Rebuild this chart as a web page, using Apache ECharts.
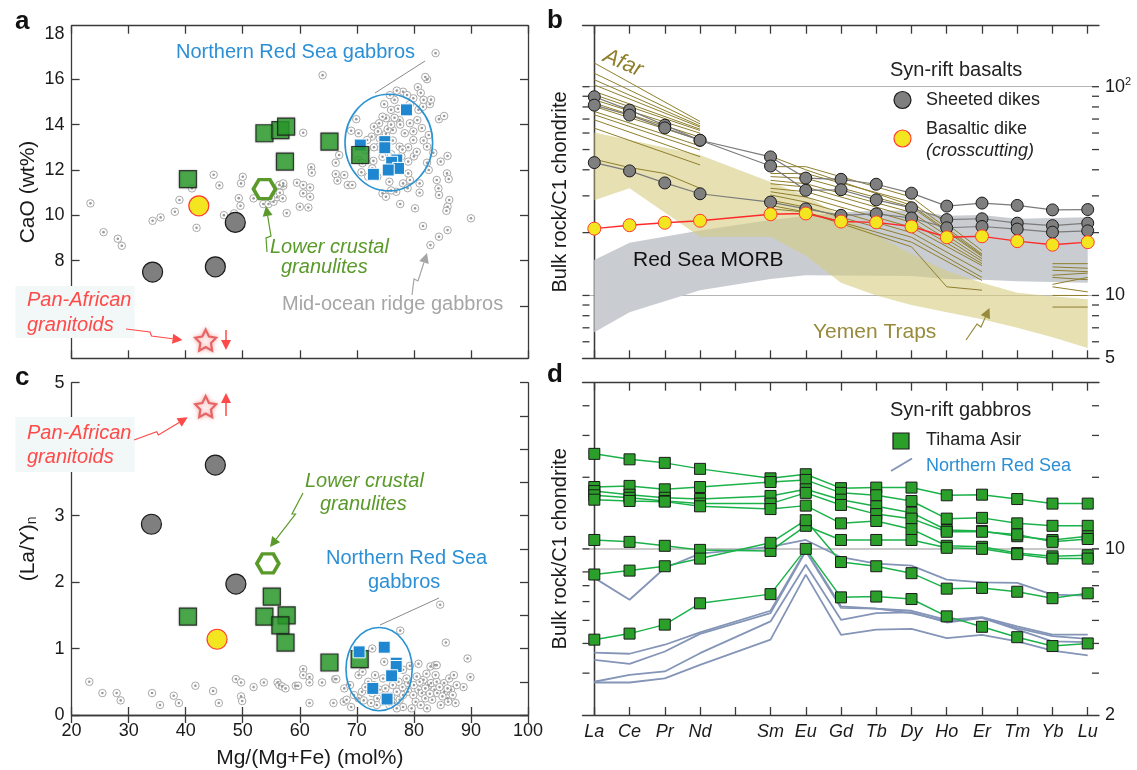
<!DOCTYPE html>
<html>
<head>
<meta charset="utf-8">
<script src="https://cdn.jsdelivr.net/npm/echarts@6/dist/echarts.min.js"></script>
<style>
  html, body { margin: 0; padding: 0; background: #fff; }
  #chart { width: 1137px; height: 770px; }
</style>
</head>
<body>
<div id="chart"></div>
<script>
// ---------- data ----------
const REE = ['La', 'Ce', 'Pr', 'Nd', 'Pm', 'Sm', 'Eu', 'Gd', 'Tb', 'Dy', 'Ho', 'Er', 'Tm', 'Yb', 'Lu'];
const REE_TICKS = [0, 1, 2, 3, 4, 5, 6, 7, 8, 9, 10, 11, 12, 13, 14];
const REE_LABELS = [0, 1, 2, 3, 5, 6, 7, 8, 9, 10, 11, 12, 13, 14];

// panel a : Mg# vs CaO
const morGabbroA = [
  [23.3,10.53],[25.6,9.26],[28.1,8.97],[28.8,8.66],[34.2,9.76],[35.6,9.91],[38.1,10.16],[38.9,10.68],
  [41.1,11.19],[41.9,9.45],[44.9,11.79],[45.9,11.32],[46.7,10.01],[48.5,10.09],[49.3,10.76],[49.6,10.42],
  [49.7,11.41],[50.0,11.70],[51.9,10.75],[53.6,10.5],[54.5,10.5],[55.4,10.6],[56.0,10.8],[56.5,11.0],
  [57.1,11.3],[57.0,10.75],[57.7,10.1],[55.0,10.75],[56.4,11.34],[57.1,11.41],[59.5,11.44],[60.6,13.64],
  [60.6,11.34],[60.6,10.97],[60.0,10.38],[61.5,10.35],[61.8,11.23],[61.8,10.82],[62.0,12.12],[62.1,11.88],
  [64.0,16.18],[66.3,12.32],[66.3,11.82],[66.6,11.53],[66.9,12.66],[67.8,11.78],[68.4,11.34],[69.2,11.34],
  [69.0,13.73],[69.9,14.24],[70.3,13.62],[80.7,15.65],[82.3,16.0],[82.0,16.1],[83.8,17.15],[84.4,14.24],
  [85.3,14.38],[82.6,13.54],[82.3,13.03],[83.4,12.76],[82.3,12.32],[84.7,12.37],[85.9,12.62],[85.8,11.85],
  [86.1,11.6],[84.0,11.56],[84.3,11.19],[84.4,10.9],[86.2,10.68],[85.9,10.38],[85.7,10.2],[81.0,11.41],
  [81.0,11.0],[80.2,10.31],[77.6,10.5],[81.6,9.53],[85.9,9.35],[84.4,9.06],[82.9,8.69],[90.0,9.87],
  [74.5,10.97],[75.1,10.82],[76.9,11.04],[78.1,11.41],[79.0,12.37],[80.0,12.6],[79.9,13.32],[80.8,14.65],
  [81.6,14.79],[81.7,15.09],[79.9,15.16],[78.1,15.45],[76.6,15.09],[76.0,14.65],[75.1,14.28],[73.9,14.06],
  [73.0,13.91],[72.6,13.47],[71.8,13.32],[73.9,13.03],[74.5,12.58],[72.9,12.4],[77.5,13.03],[78.4,13.62],
  [79.3,14.06],[77.5,14.2],[76.3,13.76],[75.1,13.6],[71.5,12.88],[70.3,12.44],[72.7,12.07],[73.6,11.7],
  [75.7,11.48],[79.3,11.56],[79.0,11.85],[77.8,12.6],[75.4,13.8],[76.6,14.3],[78.4,14.65],[79.3,14.9],
  [77.2,14.7],[74.5,14.35],[73.7,13.7],[73.0,13.0],[76.3,13.3],[79.9,13.7],[81.4,13.85],[79.0,13.0],
  [80.5,12.8],[81.7,13.3],[74.8,14.9],[75.8,15.3],[77.0,15.5],[78.8,15.3],[77.6,14.0],[76.0,14.0],
  [74.0,13.4],[75.0,12.9],[76.0,12.7],[78.0,12.9],[80.6,14.2],[82.8,14.9],[78.9,11.2],[76.0,11.1],
  [72.0,11.7],[70.8,11.9],[71.0,12.3],[81.2,15.4],[83.0,15.1],[82.6,12.0]
];
const sheetedDikesA = [[34.2,7.5],[45.2,7.73],[48.7,9.69]];
const basalticDikeA = [[42.3,10.42]];
const tihamaAsirA = [[40.4,11.6],[53.8,13.62],[56.6,13.76],[57.6,13.91],[57.4,12.37],[65.2,13.25],[70.6,12.66]];
const northRedSeaA = [[78.7,14.65],[70.6,13.1],[74.9,13.25],[74.9,12.98],[77.0,12.44],[76.1,12.34],[77.3,12.07],[75.5,12.0],[72.9,11.81]];
const granuliteA = [[53.8,11.16]];
const panAfricanA = [[43.5,4.5]];
const nrsFieldA = [75.6, 13.21, 7.68, 2.13];   // centre x, centre y, half width, half height

// panel c : Mg# vs (La/Y)n
const morGabbroC = [
  [23.1,0.50],[25.4,0.33],[27.9,0.33],[28.6,0.22],[34.1,0.33],[35.5,0.15],[37.9,0.29],[38.8,0.18],
  [41.7,0.44],[44.8,0.36],[45.8,0.18],[48.8,0.54],[49.7,0.49],[49.7,0.28],[49.9,0.21],[51.9,0.42],
  [53.7,0.49],[56.1,0.49],[56.4,0.45],[56.9,0.43],[57.5,0.40],[59.3,0.44],[59.7,0.44],[60.6,0.69],
  [60.6,0.60],[61.7,0.57],[61.7,0.49],[61.7,0.18],[63.9,0.49],[65.9,0.18],[66.2,0.54],[66.4,0.54],
  [67.8,0.40],[67.7,0.20],[68.2,0.23],[70.3,0.60],[72.7,1.00],[74.8,0.80],[77.6,1.27],[80.8,0.77],
  [82.9,0.73],[83.7,0.75],[84.0,0.75],[84.6,1.66],[85.6,1.09],[89.4,0.85],[89.9,0.57],[88.7,0.42],
  [87.3,0.18],[79.6,0.10],[78.1,0.12],[76.6,0.68],[78.1,0.68],[79.3,0.74],[81.7,0.53],[82.6,0.45],
  [85.3,0.48],[86.5,0.38],[85.9,0.25],[84.7,0.15],[82.3,0.10],[70.9,0.35],[70.3,0.25],[71.2,0.22],
  [72.7,0.33],[73.6,0.25],[74.5,0.20],[75.7,0.15],[76.6,0.18],[77.5,0.23],[78.1,0.30],[79.0,0.35],
  [79.9,0.30],[80.8,0.38],[81.4,0.33],[82.0,0.25],[83.2,0.23],[83.6,0.38],[84.1,0.33],[85.3,0.35],
  [85.9,0.40],[72.0,0.50],[73.0,0.45],[74.0,0.38],[75.0,0.30],[76.0,0.28],[77.0,0.35],[78.0,0.42],
  [79.0,0.48],[80.0,0.45],[81.0,0.50],[82.0,0.40],[83.0,0.48],[84.0,0.50],[85.0,0.28],[86.0,0.20],
  [77.0,0.10],[76.0,0.22],[75.0,0.40],[73.5,0.15],[72.5,0.18],[71.5,0.42],[69.5,0.30],[68.8,0.45],
  [69.0,0.12],[80.3,0.20],[81.2,0.15],[82.8,0.32],[84.5,0.42],[86.8,0.30],[87.5,0.45],[83.8,0.60],
  [82.2,0.62],[80.5,0.58],[78.7,0.55],[77.3,0.50],[76.3,0.45],[74.6,0.55],[73.2,0.60],[71.0,0.65],
  [86.2,0.55],[87.0,0.60]
];
const sheetedDikesC = [[34.0,2.87],[45.2,3.76],[48.8,1.97]];
const basalticDikeC = [[45.5,1.14]];
const tihamaAsirC = [[40.4,1.48],[55.1,1.78],[53.8,1.48],[57.7,1.50],[56.6,1.35],[57.5,1.09],[65.2,0.79],[70.5,0.84]];
const northRedSeaC = [[70.4,0.95],[74.8,1.02],[76.9,0.78],[76.9,0.73],[76.1,0.59],[72.8,0.40],[75.3,0.24]];
const granuliteC = [[54.4,2.28]];
const panAfricanC = [[43.5,4.64]];
const nrsFieldC = [73.9, 0.69, 5.8, 0.627];

// panel b : syn-rift basalts, REE / C1 chondrite (La..Lu, Pm empty)
const sheetedDikesB = [
  [89.5,77.2,65.4,55.4,null,46.1,36.5,36.0,34.1,30.9,26.8,27.7,27.0,25.7,25.8],
  [81.6,73.1,63.5,55.4,null,41.7,31.9,32.1,28.7,26.3,23.1,23.3,22.2,21.6,22.2],
  [43.3,39.5,34.6,30.7,null,28.0,26.0,24.2,24.6,23.5,21.1,21.4,20.8,20.1,20.4]
];
const basalticDikeB = [20.9,21.7,22.3,22.8,null,24.5,24.7,22.6,22.4,21.4,19.0,19.2,18.2,17.5,18.0];
// Afar basalts: La-Nd, Sm-Er and Yb-Lu segments
const afarLREE = [
  [130,null,null,68.1],[116,null,null,66.4],[108,null,null,64.9],[102,null,null,64.0],
  [95,null,null,62.6],[91.5,null,null,61.7],[86.6,null,null,59.9],[83.5,null,null,57.3],
  [80.4,null,null,55.6],[76.1,null,null,52.0],[73.4,null,null,49.8],[69.4,null,null,46.2],
  [63.3,null,null,42.2],[44.9,41.0,38.4,32.6]
];
const afarMREE = [
  [46.5,40.0,null,null,27.0,null,15.6],[41.4,41.4,null,null,29.6,null,16.4],[38.4,38.4,null,null,28.0,null,15.8],
  [37.1,36.4,null,null,26.5,null,15.4],[35.6,34.3,null,null,25.0,null,15.0],[34.3,33.1,null,null,23.7,null,14.6],
  [32.6,31.4,null,null,22.4,null,14.2],[31.4,29.6,null,null,21.2,null,13.9],[30.3,28.0,null,null,20.0,null,13.0],
  [28.6,26.5,null,null,19.0,null,12.2],[27.0,25.1,null,null,18.0,null,11.8],[26.0,25.1,null,null,17.1,11.0,10.6]
];
const afarHREE = [[14.2,14.2],[13.7,13.5],[13.2,13.0],[12.5,12.8],[12.2,11.9],[11.3,12.2],[11.0,10.4],[10.0,10.0],[8.8,8.8]];
const yemenUpper = [60.3,null,null,47.1,null,35.0,30.0,24.0,19.5,15.8,13.1,11.5,10.3,9.9,9.6];
const yemenLower = [28.6,32.6,null,19.1,null,19.1,15.5,11.5,10.0,9.0,8.3,7.7,7.0,6.3,5.6];
const morbUpper = [14.8,17.9,null,20.5,null,23.0,24.0,25.0,25.5,25.5,24.1,24.3,23.3,23.5,23.7];
const morbLower = [6.67,8.3,null,10.6,null,12.0,12.5,null,null,12.4,12.0,11.9,11.7,null,11.5];
const logTicksB = [6,7,8,9,10,20,30,40,50,60,70,80,90,100];

// panel d : syn-rift gabbros
const tihamaAsirD = [
  [25.1,23.8,23.0,21.7,null,19.8,20.6,18.0,18.1,18.1,16.8,16.9,16.2,15.5,15.5],
  [18.2,18.4,17.8,18.2,null,19.1,19.5,17.2,16.8,15.9,13.4,13.5,12.8,12.5,12.5],
  [17.5,16.9,16.4,16.2,null,16.7,17.8,16.1,15.1,14.2,12.0,11.9,11.3,10.9,11.3],
  [16.8,16.4,15.9,15.5,null,15.5,17.2,15.3,14.0,13.4,11.8,11.8,11.5,10.7,11.0],
  [16.1,15.9,15.8,15.1,null,14.7,15.2,12.8,13.1,12.1,10.3,10.2,9.6,9.3,9.4],
  [10.9,10.7,10.3,9.9,null,9.8,12.5,10.9,10.9,10.9,10.1,10.0,9.5,9.1,9.1],
  [7.8,8.1,8.45,9.1,null,10.6,13.2,8.8,8.45,7.9,6.8,6.85,6.6,6.2,6.5],
  [4.15,4.4,4.8,5.9,null,6.45,10.0,6.25,6.3,6.15,5.2,4.7,4.25,3.9,4.0]
];
const northRedSeaD = [
  [7.55,6.11,8.31,9.55,null,10.2,10.9,9.22,8.67,8.5,7.42,7.23,7.19,6.42,6.36],
  [3.66,3.62,3.95,4.45,null,5.49,9.87,5.73,5.6,5.49,5.03,5.16,4.72,4.36,4.36],
  [3.41,3.28,3.7,4.39,null,5.37,9.77,5.64,5.6,5.37,4.95,5.12,4.64,4.29,4.18],
  [2.76,2.95,3.05,3.64,null,4.95,8.58,5.03,5.37,5.4,4.9,5.12,4.57,4.08,4.05],
  [2.74,2.74,2.85,3.25,null,4.15,7.79,4.35,4.57,4.61,4.21,4.35,4.08,3.73,3.56]
];
const logTicksD = [3,4,5,6,7,8,10,20,30,40];

// ---------- styles ----------
const FONT = "'Liberation Sans', Arial, Helvetica, sans-serif";
const INK = '#1a1a1a';
const FRAME = '#3a3a3a';
const OLIVE = '#8f7f2c';
const BLUE = '#2b8fd6';
const GREEN = '#2a9f2a';
const REE_MIN = -0.335, REE_MAX = 14.32;

const axLine = { show: true, lineStyle: { color: FRAME, width: 1.3 } };
const tickIn = { show: true, inside: true, length: 8, lineStyle: { color: FRAME, width: 1.3 } };
const noSplit = { show: false };

function mgAxis(grid, pos, labels) {
  return {
    gridIndex: grid, type: 'value', position: pos, min: 20, max: 100, interval: 10,
    axisLine: axLine, axisTick: tickIn, splitLine: noSplit,
    axisLabel: labels ? { fontSize: 18, color: INK, fontFamily: FONT, margin: 7 } : { show: false }
  };
}
function reeAxis(grid, pos, labels) {
  return {
    gridIndex: grid, type: 'value', position: pos, min: REE_MIN, max: REE_MAX,
    axisLine: axLine, axisTick: Object.assign({}, tickIn, { customValues: REE_TICKS }), splitLine: noSplit,
    axisLabel: labels ? {
      customValues: REE_LABELS, formatter: v => REE[Math.round(v)],
      fontSize: 18, fontStyle: 'italic', color: INK, fontFamily: FONT, margin: 8
    } : { show: false }
  };
}
function logAxis(grid, pos, min, max, opts) {
  return Object.assign({
    gridIndex: grid, type: 'log', logBase: 10, position: pos, min: min, max: max,
    axisLine: axLine, axisTick: { show: false }, axisLabel: { show: false }, splitLine: noSplit
  }, opts);
}

function pairs(row, offset) {
  const out = [];
  row.forEach((v, i) => { if (v != null) out.push([i + offset, v]); });
  return out;
}
function lineSeries(row, offset, xi, yi, color, width, z, sym) {
  const s = {
    type: 'line', xAxisIndex: xi, yAxisIndex: yi, data: pairs(row, offset), z: z, silent: true,
    lineStyle: { color: color, width: width }, symbol: 'none', connectNulls: true
  };
  if (sym) {
    s.symbol = sym.symbol; s.symbolSize = sym.size; s.showSymbol = true;
    s.itemStyle = { color: sym.fill, borderColor: sym.border, borderWidth: 1 };
  }
  return s;
}
function scatter(data, xi, yi, symbol, size, fill, border, bw, z, extra) {
  return Object.assign({
    type: 'scatter', xAxisIndex: xi, yAxisIndex: yi, data: data, symbol: symbol, symbolSize: size, z: z, silent: true,
    itemStyle: { color: fill, borderColor: border, borderWidth: bw, opacity: 1 }
  }, extra || {});
}
function morSeries(data, xi, yi) {
  return [
    scatter(data, xi, yi, 'circle', 7.5, '#ffffff', '#a9a9a9', 1, 2),
    scatter(data, xi, yi, 'circle', 2.6, '#9a9a9a', '#9a9a9a', 0, 3)
  ];
}
function fieldSeries(f, xi, yi) {
  return {
    type: 'custom', xAxisIndex: xi, yAxisIndex: yi, z: 4, silent: true, data: [f],
    renderItem: (p, api) => {
      const c = api.coord([api.value(0), api.value(1)]);
      const s = api.size([api.value(2), api.value(3)]);
      return { type: 'ellipse', shape: { cx: c[0], cy: c[1], rx: s[0], ry: s[1] },
               style: { fill: 'none', stroke: '#2a93d2', lineWidth: 1.6 } };
    }
  };
}
function bandSeries(upper, lower, fill, z) {
  return {
    type: 'custom', xAxisIndex: 2, yAxisIndex: 3, z: z, silent: true, data: [[0, upper[0]]],
    renderItem: (p, api) => {
      const pts = [];
      upper.forEach((v, i) => { if (v != null) pts.push(api.coord([i, v])); });
      for (let i = lower.length - 1; i >= 0; i--) if (lower[i] != null) pts.push(api.coord([i, lower[i]]));
      return { type: 'polygon', shape: { points: pts }, style: { fill: fill } };
    }
  };
}
function tickSeries(vals, xi, yi) {
  return {
    type: 'custom', xAxisIndex: xi, yAxisIndex: yi, z: 20, silent: true,
    data: vals.map(v => [0, v]),
    renderItem: (p, api) => {
      const v = api.value(1);
      const l = api.coord([REE_MIN, v]), r = api.coord([REE_MAX, v]);
      const st = { stroke: FRAME, lineWidth: 1.3 };
      return { type: 'group', children: [
        { type: 'line', shape: { x1: l[0], y1: l[1], x2: l[0] + 7, y2: l[1] }, style: st },
        { type: 'line', shape: { x1: r[0] - 7, y1: r[1], x2: r[0], y2: r[1] }, style: st }
      ] };
    }
  };
}

const STAR = 'path://M0,-10L2.94,-4.05L9.51,-3.09L4.76,1.55L5.88,8.09L0,5L-5.88,8.09L-4.76,1.55L-9.51,-3.09L-2.94,-4.05Z';
const HEX = 'path://M-10,0L-5,-8.66L5,-8.66L10,0L5,8.66L-5,8.66Z';

function pointPanel(xi, yi, d, greenOnTop) {
  const blue = scatter(d.nrs, xi, yi, 'rect', 12, '#1f87cf', '#ffffff', 1, greenOnTop ? 6 : 8);
  const green = scatter(d.tihama, xi, yi, 'rect', 17, GREEN, '#1a1a1a', 1.2, 7,
    { itemStyle: { color: GREEN, borderColor: '#1a1a1a', borderWidth: 1.2, shadowBlur: 2, shadowColor: 'rgba(0,0,0,0.3)' } });
  return [].concat(morSeries(d.mor, xi, yi), [
    fieldSeries(d.field, xi, yi),
    blue, green,
    scatter(d.dikes, xi, yi, 'circle', 20, '#7f7f7f', '#1a1a1a', 1.2, 9),
    scatter(d.basalt, xi, yi, 'circle', 20, '#f3e621', '#ff3b30', 1.2, 9),
    scatter(d.gran, xi, yi, HEX, [22, 19], '#ffffff', '#5a9a2a', 3.5, 9),
    scatter(d.pan, xi, yi, STAR, 21, '#ffffff', '#e04a4a', 2.2, 9,
      { itemStyle: { color: '#fff', borderColor: '#e04a4a', borderWidth: 2.2, shadowBlur: 4, shadowColor: '#f59a9a' } })
  ]);
}

const series = [].concat(
  pointPanel(0, 0, { mor: morGabbroA, field: nrsFieldA, nrs: northRedSeaA, tihama: tihamaAsirA, dikes: sheetedDikesA,
                     basalt: basalticDikeA, gran: granuliteA, pan: panAfricanA }, true),
  pointPanel(4, 4, { mor: morGabbroC, field: nrsFieldC, nrs: northRedSeaC, tihama: tihamaAsirC, dikes: sheetedDikesC,
                     basalt: basalticDikeC, gran: granuliteC, pan: panAfricanC }, false),
  [bandSeries(morbUpper, morbLower, '#c9cdd2', 1),
   bandSeries(yemenUpper, yemenLower, 'rgba(214,204,128,0.6)', 2)],
  afarLREE.map(r => lineSeries(r, 0, 2, 3, OLIVE, 1, 3)),
  afarMREE.map(r => lineSeries(r, 5, 2, 3, OLIVE, 1, 3)),
  afarHREE.map(r => lineSeries(r, 13, 2, 3, OLIVE, 1, 3)),
  sheetedDikesB.map(r => lineSeries(r, 0, 2, 3, '#7a7a7a', 1.2, 5,
    { symbol: 'circle', size: 12, fill: '#7f7f7f', border: '#1a1a1a' })),
  [lineSeries(basalticDikeB, 0, 2, 3, '#ff2a2a', 1.4, 6,
    { symbol: 'circle', size: 13, fill: '#f3e621', border: '#ff3b30' })],
  [tickSeries(logTicksB, 2, 3)],
  northRedSeaD.map(r => lineSeries(r, 0, 6, 7, '#8495b8', 1.8, 3)),
  tihamaAsirD.map(r => lineSeries(r, 0, 6, 7, '#1cb24a', 1.5, 5,
    { symbol: 'rect', size: 11, fill: GREEN, border: '#1a1a1a' })),
  [tickSeries(logTicksD, 6, 7)]
);

// ---------- annotations ----------
function txt(x, y, s, color, size, opts) {
  return { type: 'text', x: x, y: y, z: 50, silent: true, rotation: (opts && opts.rot) || 0,
    style: { text: s, fill: color, font: ((opts && opts.italic) ? 'italic ' : '') + ((opts && opts.bold) ? 'bold ' : '') + size + 'px ' + FONT,
             textAlign: (opts && opts.align) || 'left', textVerticalAlign: 'middle' } };
}
function arrow(pts, color, width) {
  const n = pts.length, tip = pts[n - 1], prev = pts[n - 2];
  const dx = tip[0] - prev[0], dy = tip[1] - prev[1], len = Math.hypot(dx, dy);
  const ux = dx / len, uy = dy / len, hl = 10, hw = 5;
  const bx = tip[0] - ux * hl, by = tip[1] - uy * hl;
  const body = pts.slice(0, n - 1).concat([[bx, by]]);
  return [
    { type: 'polyline', z: 50, silent: true, shape: { points: body }, style: { stroke: color, lineWidth: width, fill: null } },
    { type: 'polygon', z: 50, silent: true, shape: { points: [tip, [bx - uy * hw, by + ux * hw], [bx + uy * hw, by - ux * hw]] }, style: { fill: color } }
  ];
}
function seg(x1, y1, x2, y2, color, w) {
  return { type: 'line', z: 50, silent: true, shape: { x1: x1, y1: y1, x2: x2, y2: y2 }, style: { stroke: color, lineWidth: w } };
}
const RED = '#ff4a4a', LGREEN = '#5a9a2a', GREYTXT = '#a6a6a6';

const graphics = [].concat(
  [txt(15, 22, 'a', '#111', 26, { bold: true }), txt(547, 21, 'b', '#111', 26, { bold: true }),
   txt(15, 378, 'c', '#111', 26, { bold: true }), txt(547, 375, 'd', '#111', 26, { bold: true })],
  // panel a
  [txt(176, 52, 'Northern Red Sea gabbros', BLUE, 20), seg(425, 61, 375, 93, '#8a8a8a', 1),
   txt(270, 247, 'Lower crustal', LGREEN, 20, { italic: true }), txt(281, 267, 'granulites', LGREEN, 20, { italic: true })],
  arrow([[267, 252], [266, 238], [271, 236], [266, 206]], LGREEN, 1.2),
  [txt(282, 304, 'Mid-ocean ridge gabbros', GREYTXT, 20)],
  arrow([[412, 295], [414, 279], [418, 281], [427, 253]], GREYTXT, 1.2),
  [{ type: 'rect', z: 45, silent: true, shape: { x: 15.5, y: 286, width: 119, height: 52 }, style: { fill: '#f2f7f7' } },
   txt(27, 300, 'Pan-African', RED, 20, { italic: true }), txt(27, 325, 'granitoids', RED, 20, { italic: true })],
  arrow([[126, 329], [150, 332], [151.5, 336], [182.5, 340]], RED, 1.2),
  arrow([[226, 330], [226, 350]], RED, 1.5),
  // panel c
  [{ type: 'rect', z: 45, silent: true, shape: { x: 15.5, y: 417, width: 119, height: 55 }, style: { fill: '#f2f7f7' } },
   txt(27, 433, 'Pan-African', RED, 20, { italic: true }), txt(27, 457, 'granitoids', RED, 20, { italic: true })],
  arrow([[134, 440], [156.7, 431.7], [158.4, 435], [187.7, 417.3]], RED, 1.2),
  arrow([[226, 416], [226, 393]], RED, 1.5),
  [txt(305, 481, 'Lower crustal', LGREEN, 20, { italic: true }), txt(320, 504, 'granulites', LGREEN, 20, { italic: true })],
  arrow([[303, 493], [292, 514], [295.5, 514], [270, 547]], LGREEN, 1.2),
  [txt(326, 558, 'Northern Red Sea', BLUE, 20), txt(368, 582, 'gabbros', BLUE, 20), seg(439, 598, 380, 625, '#8a8a8a', 1)],
  // panel b
  [txt(623, 63, 'Afar', OLIVE, 22, { italic: true, align: 'center', rot: -0.4 }),
   txt(890, 70, 'Syn-rift basalts', '#222', 20),
   { type: 'circle', z: 50, silent: true, shape: { cx: 902.5, cy: 100, r: 8.5 }, style: { fill: '#7f7f7f', stroke: '#1a1a1a', lineWidth: 1.2 } },
   txt(926, 100, 'Sheeted dikes', '#222', 18),
   { type: 'circle', z: 50, silent: true, shape: { cx: 902.5, cy: 138.5, r: 8.5 }, style: { fill: '#f3e621', stroke: '#ff3b30', lineWidth: 1.2 } },
   txt(926, 129, 'Basaltic dike', '#222', 18), txt(926, 151, '(crosscutting)', '#222', 18, { italic: true }),
   txt(633, 260, 'Red Sea MORB', '#111', 21),
   txt(813, 332, 'Yemen Traps', '#978a3b', 21)],
  arrow([[966, 340], [977, 324], [981, 327], [989.5, 308]], '#978a3b', 1.2),
  // panel d
  [txt(890, 410, 'Syn-rift gabbros', '#222', 20),
   { type: 'rect', z: 50, silent: true, shape: { x: 893, y: 433, width: 16, height: 16 }, style: { fill: GREEN, stroke: '#1a1a1a', lineWidth: 1.2 } },
   txt(926, 440, 'Tihama Asir', '#222', 18),
   seg(891, 471, 912, 458.5, '#8495b8', 2),
   txt(926, 466, 'Northern Red Sea', BLUE, 18)]
);

// ---------- chart ----------
const chart = echarts.init(document.getElementById('chart'), null, { renderer: 'canvas' });
chart.setOption({
  animation: false,
  backgroundColor: '#ffffff',
  grid: [
    { left: 71.6, top: 25.7, width: 456.4, height: 332.6 },
    { left: 582.5, top: 25.7, width: 516.5, height: 332.6 },
    { left: 71.6, top: 382.7, width: 456.4, height: 332.3 },
    { left: 582.5, top: 382.7, width: 516.5, height: 332.3 }
  ],
  xAxis: [
    mgAxis(0, 'bottom', false), mgAxis(0, 'top', false),
    reeAxis(1, 'bottom', false), reeAxis(1, 'top', false),
    Object.assign(mgAxis(2, 'bottom', true), {
      name: 'Mg/(Mg+Fe) (mol%)', nameLocation: 'middle', nameGap: 33,
      nameTextStyle: { fontSize: 21, color: INK, fontFamily: FONT, padding: [0, 0, 0, 20] }
    }),
    mgAxis(2, 'top', false),
    reeAxis(3, 'bottom', true), reeAxis(3, 'top', false)
  ],
  yAxis: [
    { gridIndex: 0, type: 'value', min: 3.7, max: 18.36, axisLine: axLine, splitLine: noSplit,
      axisTick: Object.assign({}, tickIn, { customValues: [6, 8, 10, 12, 14, 16] }),
      axisLabel: { customValues: [8, 10, 12, 14, 16, 18], fontSize: 18, color: INK, fontFamily: FONT, margin: 7 },
      name: 'CaO (wt%)', nameLocation: 'middle', nameGap: 33,
      nameTextStyle: { fontSize: 21, color: INK, fontFamily: FONT } },
    { gridIndex: 0, type: 'value', position: 'right', min: 3.7, max: 18.36, axisLine: axLine, splitLine: noSplit,
      axisTick: Object.assign({}, tickIn, { customValues: [6, 8, 10, 12, 14, 16] }), axisLabel: { show: false } },
    logAxis(1, 'left', 5, 196, { name: 'Bulk rock/C1 chondrite', nameLocation: 'middle', nameGap: 12,
      nameTextStyle: { fontSize: 20, color: INK, fontFamily: FONT } }),
    logAxis(1, 'right', 5, 196, {
      axisLabel: { show: true, margin: 6, fontSize: 18, color: INK, fontFamily: FONT,
        formatter: v => { const r = Math.round(v); return r === 100 ? '10{sup|2}' : (r === 10 ? '10' : (r === 5 ? '5' : '')); },
        rich: { sup: { fontSize: 11, verticalAlign: 'top', padding: [0, 0, 9, 0], color: INK, fontFamily: FONT } } },
      splitLine: { show: true, showMinLine: false, showMaxLine: false, lineStyle: { color: '#b5b5b5', width: 1.2 } } }),
    { gridIndex: 2, type: 'value', min: 0, max: 5, interval: 1, axisLine: axLine, axisTick: tickIn, splitLine: noSplit,
      axisLabel: { fontSize: 18, color: INK, fontFamily: FONT, margin: 7 },
      name: '(La/Y){sub|n}', nameLocation: 'middle', nameGap: 32,
      nameTextStyle: { fontSize: 21, color: INK, fontFamily: FONT,
        rich: { sub: { fontSize: 14, color: INK, fontFamily: FONT, verticalAlign: 'bottom', padding: [8, 0, 0, 0] } } } },
    { gridIndex: 2, type: 'value', position: 'right', min: 0, max: 5, interval: 0.5, axisLine: axLine, axisTick: tickIn,
      splitLine: noSplit, axisLabel: { show: false } },
    logAxis(3, 'left', 2, 50, { name: 'Bulk rock/C1 chondrite', nameLocation: 'middle', nameGap: 12,
      nameTextStyle: { fontSize: 20, color: INK, fontFamily: FONT } }),
    logAxis(3, 'right', 2, 50, {
      axisLabel: { show: true, margin: 6, fontSize: 18, color: INK, fontFamily: FONT,
        formatter: v => { const r = Math.round(v); return r === 10 ? '10' : (r === 2 ? '2' : ''); } },
      splitLine: { show: true, showMinLine: false, showMaxLine: false, lineStyle: { color: '#c8c8c8', width: 2 } } })
  ],
  series: series,
  graphic: graphics
});
</script>
</body>
</html>
